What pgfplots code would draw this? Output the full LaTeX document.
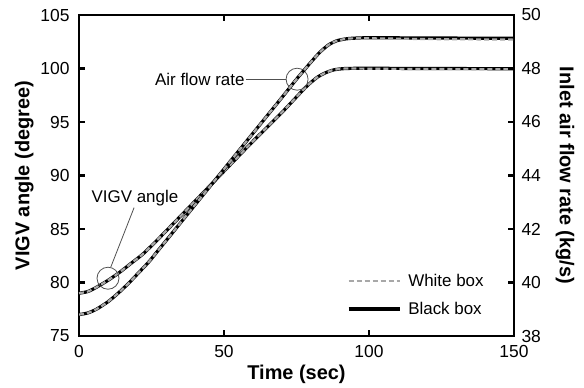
\documentclass[border=0pt]{standalone}
\usepackage{fontspec}
\setmainfont{Liberation Sans}
\usepackage{pgfplots}
\pgfplotsset{compat=1.18}
\definecolor{wbgray}{HTML}{A8A8A8}
\definecolor{anngray}{HTML}{505050}

\pgfplotstableread{
t v
0 79.0
3 79.15
6 79.55
10 80.2
14 80.95
18 81.8
22 82.65
26 83.7
30 84.8
40 87.6
50 90.4
60 93.2
70 95.9
78 98.2
82 99.15
85 99.6
88 99.88
92 100.0
100 100.02
120 100.0
150 99.98
}\vigvblack

\pgfplotstableread{
t v
0 79.0
3 79.15
6 79.55
10 80.2
14 80.95
18 81.8
22 82.65
26 83.7
30 84.8
40 87.6
50 90.4
60 93.2
70 95.9
78 98.2
82 99.15
85 99.6
88 99.88
92 100.0
100 99.98
120 99.95
150 99.93
}\vigvwhite

\pgfplotstableread{
t m
0 38.80
3 38.86
6 39.00
10 39.28
13.5 39.60
17 39.96
20 40.30
24 40.76
27 41.16
30 41.56
40 42.90
50 44.24
60 45.58
70 46.92
75 47.60
80 48.24
83 48.60
86 48.88
89 49.04
93 49.12
100 49.15
120 49.14
150 49.13
}\airblack

\pgfplotstableread{
t m
0 38.80
3 38.86
6 39.00
10 39.28
13.5 39.60
17 39.96
20 40.30
24 40.76
27 41.16
30 41.56
40 42.90
50 44.24
60 45.58
70 46.92
75 47.60
80 48.24
83 48.60
86 48.88
89 49.04
93 49.12
100 49.13
120 49.10
150 49.08
}\airwhite

\begin{document}
\begin{tikzpicture}
\pgfplotsset{
  every axis/.append style={
    scale only axis, width=435bp, height=321bp,
    xmin=0, xmax=150,
    axis line style={line width=2.4bp},
    tick align=inside,
    major tick length=6bp,
    every tick/.style={black, line width=2.2bp},
    tick label style={font=\fontsize{17.5}{20}\selectfont},
    /pgf/number format/assume math mode=true,
    label style={font=\bfseries\fontsize{20}{24}\selectfont},
  },
  blackbox/.style={black, line width=3.2bp, smooth, tension=0.4},
  whitebox/.style={wbgray, line width=2.2bp, dash pattern=on 5bp off 3bp, smooth, tension=0.4},
}
\begin{axis}[
  ymin=75, ymax=105,
  ytick={75,80,...,105},
  xtick={0,50,100,150},
  ytick pos=left,
  xticklabel style={yshift=-6bp},
  yticklabel style={xshift=-6bp},
  xlabel={Time (sec)},
  ylabel={VIGV angle (degree)},
]
\addplot[blackbox] table[x=t,y=v] {\vigvblack};
\addplot[whitebox] table[x=t,y=v] {\vigvwhite};
% annotations
\draw[anngray, line width=0.8bp] (axis cs:75.2,99.0) circle[radius=11bp];
\draw[anngray, line width=0.8bp] (axis cs:10,80.4) circle[radius=11bp];
\node[anchor=east, inner sep=1bp, font=\fontsize{17}{20}\selectfont] (afr) at (axis cs:57.5,99.0) {Air flow rate};
\draw[anngray, line width=0.8bp] (afr.east) -- ([xshift=-11bp]axis cs:75.2,99.0);
\node[anchor=south, inner sep=1bp, font=\fontsize{17}{20}\selectfont] (vg) at (axis cs:19.3,87.0) {VIGV angle};
\draw[anngray, line width=0.8bp] (axis cs:19.0,87.0) -- (axis cs:10.9,81.4);
\end{axis}
\begin{axis}[
  axis x line=none,
  axis y line*=right,
  ymin=38, ymax=50,
  ytick={38,40,...,50},
  yticklabel style={xshift=4bp},
  ylabel={Inlet air flow rate (kg/s)},
  ylabel style={rotate=180, yshift=8bp},
  legend style={at={(0.609,0.205)}, anchor=north west, draw=none, fill=none,
    font=\fontsize{17}{20}\selectfont, row sep=10bp, column sep=5bp,
    legend cell align=left},
  legend image code/.code={\draw[#1] (0bp,0bp) -- (51bp,0bp);},
]
\addplot[blackbox, forget plot] table[x=t,y=m] {\airblack};
\addplot[whitebox, forget plot] table[x=t,y=m] {\airwhite};
\addlegendimage{wbgray, line width=2.2bp, dash pattern=on 5bp off 3bp}
\addlegendentry{White box}
\addlegendimage{black, line width=3.2bp}
\addlegendentry{Black box}
\end{axis}
\pgfresetboundingbox
\useasboundingbox (-79bp,-52bp) rectangle (505bp,336bp);
\end{tikzpicture}
\end{document}
